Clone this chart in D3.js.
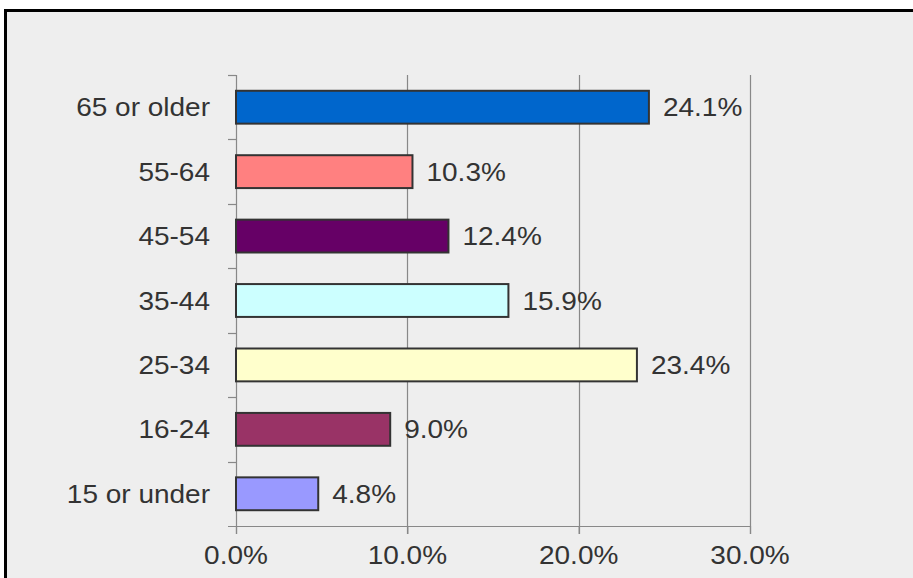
<!DOCTYPE html>
<html>
<head>
<meta charset="utf-8">
<script src="https://cdn.jsdelivr.net/npm/d3@7"></script>
<style>
  html, body { margin: 0; padding: 0; background: #fff; }
  svg { display: block; }
  text { font-family: "Liberation Sans", Arial, sans-serif; fill: #333; }
</style>
</head>
<body>
<svg id="chart"></svg>
<script>
"use strict";

// chart data
var categories = ["65 or older", "55-64", "45-54", "35-44", "25-34", "16-24", "15 or under"];
var shares = [24.1, 10.3, 12.4, 15.9, 23.4, 9.0, 4.8];
var barColors = ["#0066cc", "#ff8080", "#660066", "#ccffff", "#ffffcc", "#993366", "#9999ff"];
var xTicks = [0, 10, 20, 30];

var width = 913, height = 578;
var plot = {left: 236, right: 750, top: 75, bottom: 526};
var stretch = 1.12; // text in the source is drawn a bit wide

var svg = d3.select("#chart")
  .attr("width", width)
  .attr("height", height);

// panel background with top / left frame
svg.append("rect")
  .attr("x", 5).attr("y", 10)
  .attr("width", width - 5).attr("height", height - 10)
  .attr("fill", "#eeeeee");
svg.append("path")
  .attr("d", "M5.5," + height + "V10.5H" + width)
  .attr("fill", "none")
  .attr("stroke", "#000")
  .attr("stroke-width", 3);

var x = d3.scaleLinear()
  .domain([0, 30])
  .range([plot.left, plot.right]);

var y = d3.scaleBand()
  .domain(categories)
  .range([plot.top, plot.bottom])
  .paddingInner(0.49)
  .paddingOuter(0.245);

function wideText(sel, tx, ty) {
  return sel.attr("transform", "translate(" + tx + "," + ty + ") scale(" + stretch + ",1)");
}

// vertical grid lines
svg.append("g")
  .selectAll("line")
  .data(xTicks.slice(1))
  .enter().append("line")
  .attr("x1", function(d) {return Math.round(x(d)) + 0.5})
  .attr("x2", function(d) {return Math.round(x(d)) + 0.5})
  .attr("y1", plot.top)
  .attr("y2", plot.bottom + 8)
  .attr("stroke", "#888")
  .attr("stroke-width", 1.2);

// x axis
var xAxis = svg.append("g")
  .attr("transform", "translate(0," + plot.bottom + ")")
  .call(d3.axisBottom(x).tickValues(xTicks).tickSize(8).tickSizeOuter(0)
    .tickFormat(function(d) {return d.toFixed(1) + "%"}));
xAxis.select(".domain").remove();
xAxis.selectAll(".tick line").attr("stroke", "#888").attr("stroke-width", 1.2);
xAxis.selectAll(".tick text").remove();
xAxis.append("line")
  .attr("x1", plot.left - 8).attr("x2", plot.right)
  .attr("y1", 0.5).attr("y2", 0.5)
  .attr("stroke", "#888").attr("stroke-width", 1.2);

svg.append("g")
  .selectAll("text")
  .data(xTicks)
  .enter().append("text")
  .each(function(d) {wideText(d3.select(this), x(d), plot.bottom + 38)})
  .attr("text-anchor", "middle")
  .attr("font-size", 25)
  .text(function(d) {return d.toFixed(1) + "%"});

// y axis: line plus boundary ticks
var bandStep = y.step();
var boundaries = d3.range(categories.length).map(function(i) {return plot.top + i * bandStep});
svg.append("line")
  .attr("x1", plot.left + 0.5).attr("x2", plot.left + 0.5)
  .attr("y1", plot.top).attr("y2", plot.bottom + 8)
  .attr("stroke", "#888").attr("stroke-width", 1.2);
svg.append("g")
  .selectAll("line")
  .data(boundaries)
  .enter().append("line")
  .attr("x1", plot.left - 8).attr("x2", plot.left)
  .attr("y1", function(d) {return Math.round(d) + 0.5})
  .attr("y2", function(d) {return Math.round(d) + 0.5})
  .attr("stroke", "#888").attr("stroke-width", 1.2);

svg.append("g")
  .selectAll("text")
  .data(categories)
  .enter().append("text")
  .each(function(d) {wideText(d3.select(this), 210, y(d) + y.bandwidth() / 2 + 9)})
  .attr("text-anchor", "end")
  .attr("font-size", 25)
  .text(function(d) {return d});

// bars
svg.append("g")
  .selectAll("rect")
  .data(shares)
  .enter().append("rect")
  .attr("x", x(0))
  .attr("y", function(d, i) {return y(categories[i])})
  .attr("width", function(d) {return x(d) - x(0)})
  .attr("height", y.bandwidth())
  .attr("fill", function(d, i) {return barColors[i]})
  .attr("stroke", "#333")
  .attr("stroke-width", 2);

// value labels
svg.append("g")
  .selectAll("text")
  .data(shares)
  .enter().append("text")
  .each(function(d, i) {wideText(d3.select(this), x(d) + 14, y(categories[i]) + y.bandwidth() / 2 + 9)})
  .attr("font-size", 25)
  .text(function(d) {return d.toFixed(1) + "%"});
</script>
</body>
</html>
